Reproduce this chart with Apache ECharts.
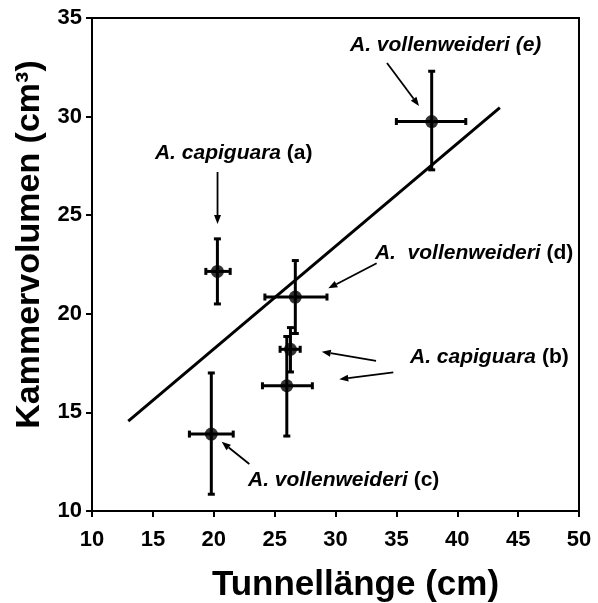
<!DOCTYPE html>
<html>
<head>
<meta charset="utf-8">
<script src="https://cdn.jsdelivr.net/npm/echarts@6/dist/echarts.min.js"></script>
<style>
html,body{margin:0;padding:0;background:#fff;}
#chart{width:598px;height:603px;}
</style>
</head>
<body>
<div id="chart"></div>
<script>
// ---- data ----
const xTicks = [10, 15, 20, 25, 30, 35, 40, 45, 50];
const yTicks = [10, 15, 20, 25, 30, 35];
const groups = ['a', 'b', 'b', 'c', 'd', 'e'];
const tunnel = [20.3, 26.3, 26.0, 19.8, 26.7, 37.9];
const volume = [22.15, 18.2, 16.35, 13.9, 20.85, 29.75];
const tunnelLo = [19.35, 25.45, 24.0, 18.0, 24.2, 35.0];
const tunnelHi = [21.35, 27.1, 28.1, 21.6, 29.3, 40.7];
const volumeLo = [20.5, 17.05, 13.8, 10.85, 19.0, 27.3];
const volumeHi = [23.8, 19.3, 18.85, 17.0, 22.7, 32.3];
const fitX = [12.98, 43.5];
const fitY = [14.56, 30.45];
// annotation labels (data coords of left edge / vertical middle)
const labelItalic = ['A. vollenweideri (e)', 'A. capiguara', 'A.  vollenweideri', 'A. capiguara', 'A. vollenweideri'];
const labelPlain = ['', ' (a)', ' (d)', ' (b)', ' (c)'];
const labelX = [31.19, 15.17, 33.24, 36.12, 22.81];
const labelY = [33.63, 28.15, 23.08, 17.81, 11.57];
// arrows: from (x0,y0) to (x1,y1) in data coords
const arrowX0 = [34.23, 20.31, 33.38, 33.33, 34.75, 22.92];
const arrowY0 = [32.72, 27.19, 22.56, 17.61, 17.03, 12.38];
const arrowX1 = [36.86, 20.31, 29.41, 28.87, 30.31, 20.65];
const arrowY1 = [30.54, 24.55, 21.29, 18.08, 16.68, 13.51];

const FONT = '"Liberation Sans", Arial, Helvetica, sans-serif';
const chart = echarts.init(document.getElementById('chart'));

const errData = tunnel.map((x, i) => [x, volume[i], tunnelLo[i], tunnelHi[i], volumeLo[i], volumeHi[i]]);
const labelData = labelX.map((x, i) => [x, labelY[i], i]);
const arrowData = arrowX0.map((x, i) => [x, arrowY0[i], arrowX1[i], arrowY1[i]]);

function renderErr(params, api) {
  const c = api.coord([api.value(0), api.value(1)]);
  const xl = api.coord([api.value(2), api.value(1)]);
  const xh = api.coord([api.value(3), api.value(1)]);
  const yl = api.coord([api.value(0), api.value(4)]);
  const yh = api.coord([api.value(0), api.value(5)]);
  const st = {stroke: '#000', lineWidth: 3, fill: null};
  const cap = 3.5;
  return {type: 'group', children: [
    {type: 'line', shape: {x1: xl[0], y1: c[1], x2: xh[0], y2: c[1]}, style: st},
    {type: 'line', shape: {x1: c[0], y1: yl[1], x2: c[0], y2: yh[1]}, style: st},
    {type: 'line', shape: {x1: xl[0], y1: c[1]-cap, x2: xl[0], y2: c[1]+cap}, style: st},
    {type: 'line', shape: {x1: xh[0], y1: c[1]-cap, x2: xh[0], y2: c[1]+cap}, style: st},
    {type: 'line', shape: {x1: c[0]-cap, y1: yl[1], x2: c[0]+cap, y2: yl[1]}, style: st},
    {type: 'line', shape: {x1: c[0]-cap, y1: yh[1], x2: c[0]+cap, y2: yh[1]}, style: st}
  ]};
}

function renderLabel(params, api) {
  const p = api.coord([api.value(0), api.value(1)]);
  const i = api.value(2);
  let txt = '{i|' + labelItalic[i] + '}';
  if (labelPlain[i]) txt += '{n|' + labelPlain[i] + '}';
  return {type: 'text', x: p[0], y: p[1], style: {
    text: txt, textAlign: 'left', textVerticalAlign: 'middle',
    rich: {
      i: {fontFamily: FONT, fontSize: 21, fontWeight: 'bold', fontStyle: 'italic', fill: '#000'},
      n: {fontFamily: FONT, fontSize: 21, fontWeight: 'bold', fill: '#000'}
    }
  }};
}

function renderArrow(params, api) {
  const a = api.coord([api.value(0), api.value(1)]);
  const b = api.coord([api.value(2), api.value(3)]);
  const dx = b[0]-a[0], dy = b[1]-a[1];
  const len = Math.sqrt(dx*dx+dy*dy);
  const ux = dx/len, uy = dy/len;
  const hl = 9, hw = 3.5;
  const bx = b[0]-ux*hl, by = b[1]-uy*hl;
  return {type: 'group', children: [
    {type: 'line', shape: {x1: a[0], y1: a[1], x2: bx, y2: by}, style: {stroke: '#000', lineWidth: 1.8}},
    {type: 'polygon', shape: {points: [[b[0], b[1]], [bx - uy*hw, by + ux*hw], [bx + uy*hw, by - ux*hw]]}, style: {fill: '#000'}}
  ]};
}

chart.setOption({
  animation: false,
  backgroundColor: '#fff',
  grid: {left: 92, right: 19, top: 18, bottom: 92, containLabel: false, outerBoundsMode: 'none',
         show: true, borderColor: '#000', borderWidth: 2, backgroundColor: 'transparent'},
  xAxis: {
    type: 'value', min: xTicks[0], max: xTicks[xTicks.length-1], interval: 5,
    name: 'Tunnellänge (cm)', nameLocation: 'middle', nameGap: 57,
    nameTextStyle: {fontFamily: FONT, fontSize: 35, fontWeight: 'bold', color: '#000', padding: [0, 0, 0, 40]},
    axisLine: {lineStyle: {color: '#000', width: 2}},
    axisTick: {inside: false, length: 6, lineStyle: {color: '#000', width: 2}},
    axisLabel: {fontFamily: FONT, fontSize: 22, fontWeight: 'bold', color: '#000', margin: 18},
    splitLine: {show: false}
  },
  yAxis: {
    type: 'value', min: yTicks[0], max: yTicks[yTicks.length-1], interval: 5,
    name: 'Kammervolumen (cm³)', nameLocation: 'middle', nameGap: 41, nameRotate: 90,
    nameTextStyle: {fontFamily: FONT, fontSize: 34, fontWeight: 'bold', color: '#000', padding: [0, 0, 0, 40]},
    axisLine: {lineStyle: {color: '#000', width: 2}},
    axisTick: {inside: false, length: 6, lineStyle: {color: '#000', width: 2}},
    axisLabel: {fontFamily: FONT, fontSize: 22, fontWeight: 'bold', color: '#000', margin: 10},
    splitLine: {show: false}
  },
  series: [
    {type: 'line', data: fitX.map((x, i) => [x, fitY[i]]), symbol: 'none', lineStyle: {color: '#000', width: 3}, z: 2},
    {type: 'custom', data: errData, renderItem: renderErr, z: 3},
    {type: 'scatter', data: tunnel.map((x, i) => [x, volume[i]]), symbol: 'circle', symbolSize: 13, itemStyle: {color: '#000'}, z: 4},
    {type: 'custom', data: arrowData, renderItem: renderArrow, z: 5},
    {type: 'custom', data: labelData, renderItem: renderLabel, z: 5}
  ]
});
</script>
</body>
</html>
